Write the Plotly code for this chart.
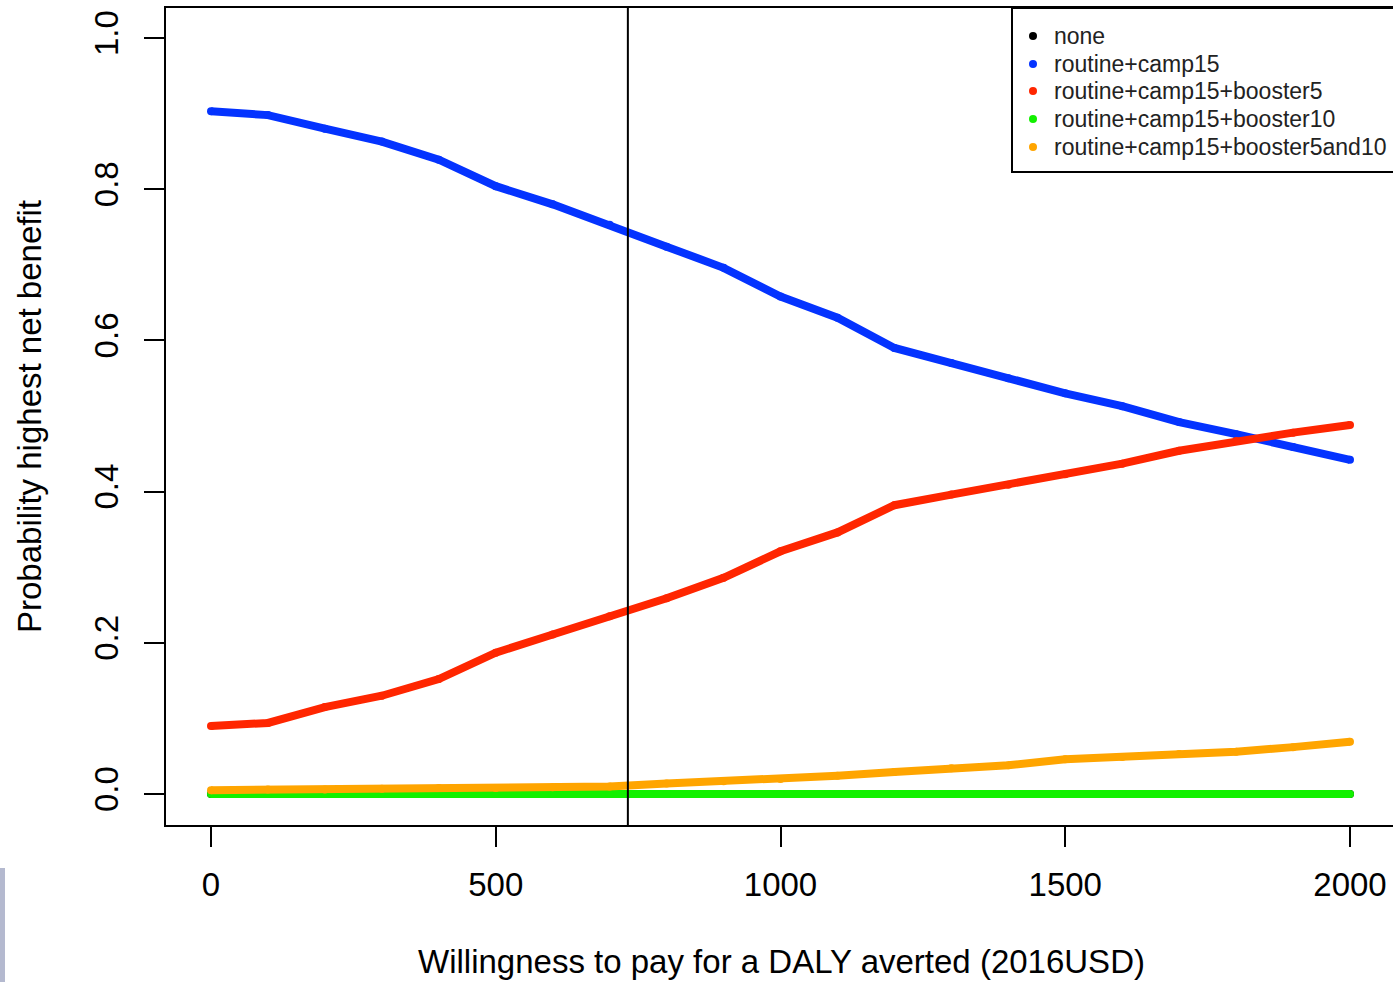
import plotly.graph_objects as go

# Willingness-to-pay grid (2016 USD per DALY averted)
wtp = [0, 100, 200, 300, 400, 500, 600, 700, 800, 900, 1000,
       1100, 1200, 1300, 1400, 1500, 1600, 1700, 1800, 1900, 2000]

# Probability that each strategy has the highest net benefit
p_none = [0.0] * 21
p_camp15 = [0.903, 0.898, 0.880, 0.863, 0.839, 0.804, 0.780, 0.753, 0.724, 0.696, 0.658,
            0.630, 0.590, 0.570, 0.550, 0.530, 0.513, 0.492, 0.476, 0.459, 0.442]
p_booster5 = [0.090, 0.094, 0.115, 0.130, 0.152, 0.187, 0.211, 0.235, 0.259, 0.286, 0.321,
              0.346, 0.382, 0.396, 0.409, 0.423, 0.437, 0.454, 0.467, 0.478, 0.488]
p_booster10 = [0.0] * 21
p_booster5and10 = [0.005, 0.006, 0.006, 0.007, 0.008, 0.008, 0.009, 0.010, 0.014, 0.017, 0.020,
                   0.024, 0.029, 0.034, 0.038, 0.046, 0.049, 0.053, 0.056, 0.062, 0.069]

strategies = ["none", "routine+camp15", "routine+camp15+booster5",
              "routine+camp15+booster10", "routine+camp15+booster5and10"]
series = [p_none, p_camp15, p_booster5, p_booster10, p_booster5and10]
colors = ["#000000", "#0433FF", "#FF2600", "#12F000", "#FFA500"]

threshold_wtp = 732  # vertical reference line
x_ticks = [0, 500, 1000, 1500, 2000]
y_ticks = [0.0, 0.2, 0.4, 0.6, 0.8, 1.0]
y_tick_text = ["0.0", "0.2", "0.4", "0.6", "0.8", "1.0"]

W, H = 1393, 982
ML, MR, MT, MB = 166, 0, 8, 157
PW, PH = W - ML - MR, H - MT - MB

def px_x(px):
    return (px - ML) / PW

def px_y(py):
    return (H - MB - py) / PH

FONT = "Liberation Sans, Arial, Helvetica, sans-serif"

fig = go.Figure()
for name, vals, col in zip(strategies, series, colors):
    fig.add_trace(go.Scatter(
        x=wtp, y=vals, name=name, mode="lines+markers",
        line=dict(color=col, width=8),
        marker=dict(color=col, size=8, line=dict(width=0)),
        showlegend=False, hoverinfo="x+y+name",
    ))

# threshold line
fig.add_shape(type="line", xref="x", yref="paper", x0=threshold_wtp, x1=threshold_wtp,
              y0=0, y1=1, line=dict(color="black", width=2))

# legend box
fig.add_shape(type="rect", xref="paper", yref="paper",
              x0=px_x(1012), x1=px_x(1400), y0=px_y(172), y1=px_y(8),
              line=dict(color="black", width=2), fillcolor="white", layer="above")
row_y = [36, 64, 91, 119, 147]
r = 4
for name, col, ry in zip(strategies, colors, row_y):
    fig.add_shape(type="circle", xref="paper", yref="paper",
                  x0=px_x(1033 - r), x1=px_x(1033 + r),
                  y0=px_y(ry + r), y1=px_y(ry - r),
                  line=dict(width=0), fillcolor=col, layer="above")
    fig.add_annotation(x=px_x(1052), y=px_y(ry), xref="paper", yref="paper",
                       text=name, showarrow=False, xanchor="left", yanchor="middle",
                       font=dict(family=FONT, size=23, color="#222222"))

# axis titles
fig.add_annotation(x=px_x(781), y=px_y(961), xref="paper", yref="paper",
                   text="Willingness to pay for a DALY averted (2016USD)",
                   showarrow=False, xanchor="center", yanchor="middle",
                   font=dict(family=FONT, size=33, color="black"))
fig.add_annotation(x=px_x(30), y=px_y(417), xref="paper", yref="paper",
                   text="Probability highest net benefit", textangle=-90,
                   showarrow=False, xanchor="center", yanchor="middle",
                   font=dict(family=FONT, size=33, color="black"))

# small grey strip at the lower-left edge
fig.add_shape(type="rect", xref="paper", yref="paper",
              x0=px_x(0), x1=px_x(5), y0=px_y(982), y1=px_y(868),
              line=dict(width=0), fillcolor="#b4b9cf", layer="below")

x_per_px = 2000 / (1350 - 211)
y_per_px = 1.0 / (794 - 38)
fig.update_xaxes(range=[0 - (211 - ML) * x_per_px, 0 + (W - MR - 211) * x_per_px],
                 tickvals=x_ticks, ticktext=[str(v) for v in x_ticks],
                 ticks="outside", ticklen=20, tickwidth=2, tickcolor="black",
                 ticklabelstandoff=9,
                 showline=True, linecolor="black", linewidth=2, mirror=True,
                 showgrid=False, zeroline=False,
                 tickfont=dict(family=FONT, size=33, color="black"))
fig.update_yaxes(range=[0 - (825 - 794) * y_per_px, 1.0 + (38 - 8) * y_per_px],
                 tickvals=y_ticks, ticktext=y_tick_text, tickangle=-90,
                 ticks="outside", ticklen=20, tickwidth=2, tickcolor="black",
                 ticklabelstandoff=13,
                 showline=True, linecolor="black", linewidth=2, mirror=False,
                 showgrid=False, zeroline=False,
                 tickfont=dict(family=FONT, size=33, color="black"))

fig.update_layout(width=W, height=H, margin=dict(l=ML, r=MR, t=MT, b=MB, pad=0),
                  plot_bgcolor="white", paper_bgcolor="white", showlegend=False)

fig.write_html("out.html")
